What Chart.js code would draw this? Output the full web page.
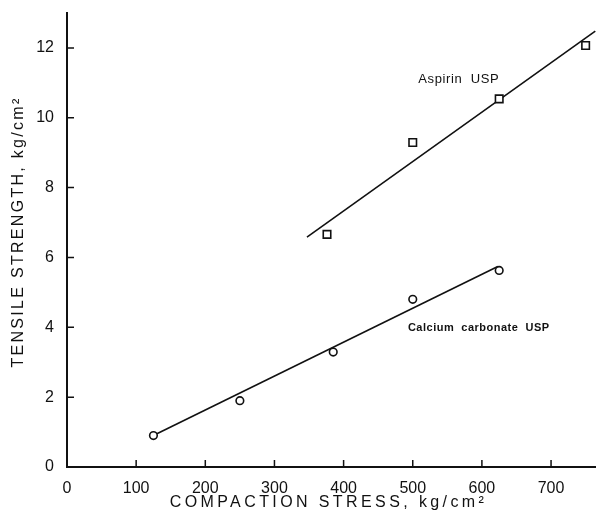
<!DOCTYPE html>
<html>
<head>
<meta charset="utf-8">
<script src="https://cdn.jsdelivr.net/npm/chart.js@4/dist/chart.umd.min.js"></script>
<style>
  body { margin: 0; background: #fff; }
  #wrap { width: 596px; height: 514px; }
</style>
</head>
<body>
<div id="wrap"><canvas id="tensile" width="596" height="514"></canvas></div>
<script>
// measured points
var aspirinX = [376, 500, 625, 750]
var aspirinY = [6.66, 9.29, 10.54, 12.07]
var calciumX = [125, 250, 385, 500, 625]
var calciumY = [0.9, 1.9, 3.29, 4.8, 5.63]

// fitted lines (end points)
var aspirinFitX = [347, 764]
var aspirinFitY = [6.58, 12.48]
var calciumFitX = [130, 623]
var calciumFitY = [0.95, 5.74]

// axis ticks
var xTicks = [0, 100, 200, 300, 400, 500, 600, 700]
var yTicks = [0, 2, 4, 6, 8, 10, 12]

var xTitle = 'COMPACTION STRESS, kg/cm²'
var yTitle = 'TENSILE STRENGTH, kg/cm²'

function toPoints(xs, ys){
	var pts = []
	for(var i = 0; i < xs.length; i++){
		pts.push({x: xs[i], y: ys[i]})
	}
	return pts
}

// tick marks point inward on this figure, titles are spaced out
const inwardTicks = {
	id: 'inwardTicks',
	afterDatasetsDraw(chart){
		const ctx = chart.ctx
		const xs = chart.scales.x
		const ys = chart.scales.y
		const area = chart.chartArea
		ctx.save()
		ctx.strokeStyle = '#111'
		ctx.lineWidth = 1.5
		ctx.beginPath()
		xTicks.forEach(function(v){
			if(v === 0) return
			var px = xs.getPixelForValue(v)
			ctx.moveTo(px, area.bottom)
			ctx.lineTo(px, area.bottom - 7)
		})
		yTicks.forEach(function(v){
			if(v === 0) return
			var py = ys.getPixelForValue(v)
			ctx.moveTo(area.left, py)
			ctx.lineTo(area.left + 7, py)
		})
		ctx.stroke()

		// curve labels
		ctx.fillStyle = '#111'
		ctx.textBaseline = 'middle'
		ctx.textAlign = 'left'
		ctx.font = '13px "Liberation Sans", Arial, sans-serif'
		ctx.letterSpacing = '0.6px'
		ctx.fillText('Aspirin  USP', xs.getPixelForValue(508), ys.getPixelForValue(11.1))
		ctx.font = 'bold 11px "Liberation Sans", Arial, sans-serif'
		ctx.letterSpacing = '0.5px'
		ctx.fillText('Calcium  carbonate  USP', xs.getPixelForValue(493), ys.getPixelForValue(3.98))

		// axis titles
		ctx.textAlign = 'center'
		ctx.font = '16px "Liberation Sans", Arial, sans-serif'
		ctx.letterSpacing = '3.4px'
		ctx.fillText(xTitle, (area.left + area.right) / 2 - 3, 503)
		ctx.letterSpacing = '2.3px'
		ctx.translate(19, (area.top + area.bottom) / 2 - 8)
		ctx.rotate(-Math.PI / 2)
		ctx.fillText(yTitle, 0, 0)
		ctx.restore()
	}
}

const tickFont = {family: '"Liberation Sans", Arial, sans-serif', size: 16}

const tensileChart = document.getElementById('tensile').getContext('2d')
const tensile = new Chart(tensileChart, {
	type: 'scatter',
	data: {
		datasets: [{
			data: toPoints(calciumX, calciumY),
			pointStyle: 'circle',
			pointRadius: 3.8,
			pointBackgroundColor: '#fff',
			pointBorderColor: '#111',
			pointBorderWidth: 1.6,
			showLine: false
		}, {
			data: toPoints(aspirinX, aspirinY),
			pointStyle: 'rect',
			pointRadius: 5.3,
			pointBackgroundColor: '#fff',
			pointBorderColor: '#111',
			pointBorderWidth: 1.6,
			showLine: false
		}, {
			data: toPoints(calciumFitX, calciumFitY),
			showLine: true,
			borderColor: '#111',
			borderWidth: 1.6,
			pointRadius: 0
		}, {
			data: toPoints(aspirinFitX, aspirinFitY),
			showLine: true,
			borderColor: '#111',
			borderWidth: 1.6,
			pointRadius: 0
		}]
	},
	options: {
		responsive: false,
		animation: false,
		layout: {
			autoPadding: false,
			padding: {top: 13, right: 0, left: 0, bottom: 0}
		},
		scales: {
			x: {
				type: 'linear',
				min: 0,
				max: 765,
				afterBuildTicks: function(scale){
					scale.ticks = xTicks.map(function(v){ return {value: v} })
				},
				afterFit: function(scale){
					scale.height = 47
					scale.paddingLeft = 0
					scale.paddingRight = 0
				},
				grid: {display: false, drawTicks: false},
				border: {display: true, color: '#111', width: 2},
				ticks: {color: '#111', font: tickFont, padding: 12, maxRotation: 0}
			},
			y: {
				type: 'linear',
				min: 0,
				max: 13,
				afterBuildTicks: function(scale){
					scale.ticks = yTicks.map(function(v){ return {value: v} })
				},
				afterFit: function(scale){
					scale.width = 67
					scale.paddingTop = 0
					scale.paddingBottom = 0
				},
				grid: {display: false, drawTicks: false},
				border: {display: true, color: '#111', width: 2},
				ticks: {color: '#111', font: tickFont, padding: 13}
			}
		},
		plugins: {
			legend: {display: false},
			tooltip: {enabled: false}
		}
	},
	plugins: [inwardTicks]
})
</script>
</body>
</html>
